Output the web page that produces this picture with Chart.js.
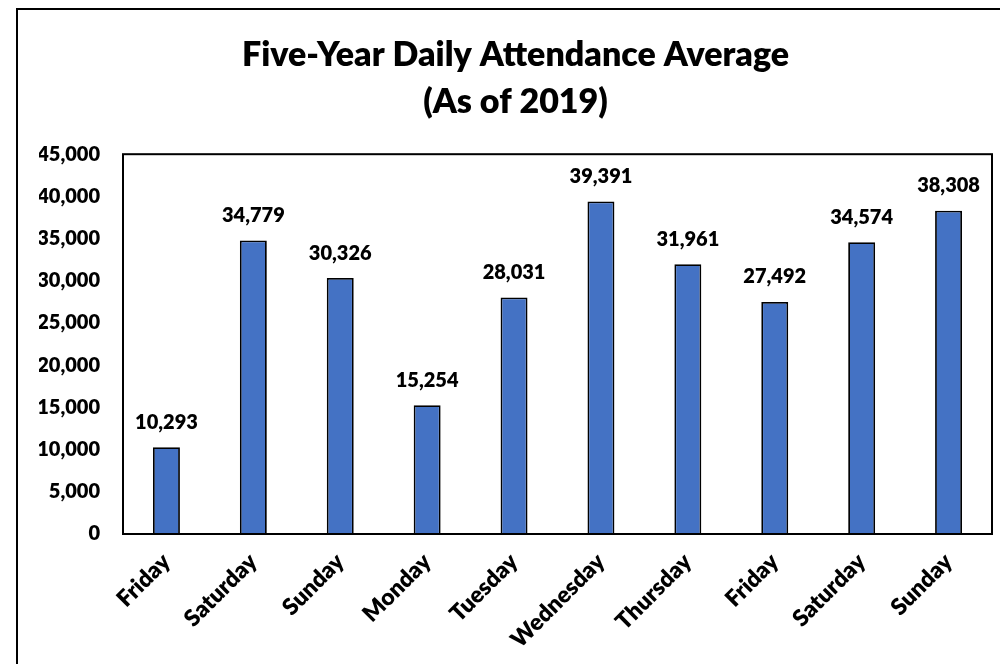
<!DOCTYPE html>
<html><head><meta charset="utf-8">
<script src="https://cdn.jsdelivr.net/npm/chart.js@4/dist/chart.umd.min.js"></script>
<style>html,body{margin:0;padding:0;background:#fff;}#wrap{width:1000px;height:664px;position:relative;}</style>
</head><body><div id="wrap"><canvas id="c" width="1000" height="664"></canvas></div>
<script>
const titleLines = ['Five-Year Daily Attendance Average', '(As of 2019)'];
const categories = ['Friday','Saturday','Sunday','Monday','Tuesday','Wednesday','Thursday','Friday','Saturday','Sunday'];
const attendance = [10293, 34779, 30326, 15254, 28031, 39391, 31961, 27492, 34574, 38308];
const yTicks = [0,5000,10000,15000,20000,25000,30000,35000,40000,45000];

const FONT = 'Lato, "Open Sans", sans-serif';
const W = '800';
const fmt = v => v.toLocaleString('en-US');

const decor = {
  id: 'decor',
  beforeDraw(chart) {
    const ctx = chart.ctx;
    ctx.save();
    ctx.fillStyle = '#fff';
    ctx.fillRect(0, 0, chart.width, chart.height);
    ctx.strokeStyle = '#000';
    ctx.lineWidth = 2;
    ctx.strokeRect(17, 9, 1100, 800);
    ctx.restore();
  },
  afterDatasetsDraw(chart) {
    const ctx = chart.ctx;
    const a = chart.chartArea;
    ctx.save();
    ctx.strokeStyle = '#000';
    ctx.lineWidth = 2;
    ctx.strokeRect(a.left, a.top, a.right - a.left, a.bottom - a.top);
    ctx.fillStyle = '#000';
    ctx.font = W + ' 20px ' + FONT;
    ctx.textAlign = 'center';
    ctx.textBaseline = 'middle';
    const meta = chart.getDatasetMeta(0);
    meta.data.forEach((bar, i) => {
      ctx.fillText(fmt(attendance[i]), bar.x, bar.y - 25);
    });
    ctx.restore();
  }
};

new Chart(document.getElementById('c'), {
  type: 'bar',
  data: {
    labels: categories,
    datasets: [{
      data: attendance,
      backgroundColor: '#4472C4',
      borderColor: '#000',
      borderWidth: 1.8,
      categoryPercentage: 1,
      barPercentage: 0.31
    }]
  },
  options: {
    responsive: false,
    animation: false,
    layout: { padding: { left: 39, right: 8, top: 0, bottom: 0 } },
    plugins: {
      legend: { display: false },
      tooltip: { enabled: false },
      title: {
        display: true,
        text: titleLines,
        color: '#000',
        font: { family: FONT, size: 34, weight: W, lineHeight: 1.4 },
        padding: { top: 31, bottom: 28 }
      }
    },
    scales: {
      x: {
        grid: { display: false, drawTicks: false },
        border: { display: false },
        ticks: {
          color: '#000', font: { family: FONT, size: 23, weight: W },
          maxRotation: 45, minRotation: 45, padding: 14, autoSkip: false
        },
        afterFit(s) { s.height = 130; }
      },
      y: {
        min: 0, max: 45000,
        grid: { display: false, drawTicks: false },
        border: { display: false },
        afterBuildTicks(s) { s.ticks = yTicks.map(v => ({ value: v })); },
        ticks: {
          color: '#000', font: { family: FONT, size: 20, weight: W },
          padding: 23,
          callback: v => fmt(v)
        },
        afterFit(s) { s.width = 84; }
      }
    }
  },
  plugins: [decor]
});
</script></body></html>
